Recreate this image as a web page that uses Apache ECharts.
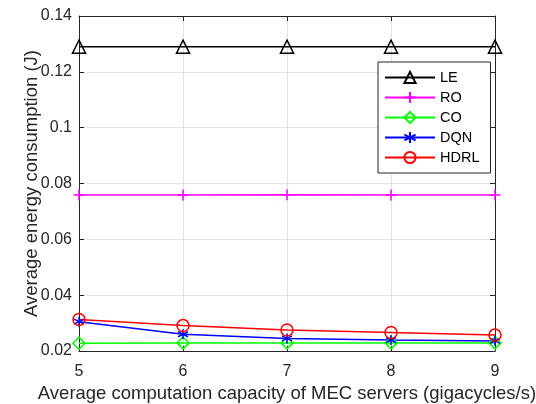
<!DOCTYPE html>
<html>
<head>
<meta charset="utf-8">
<script src="https://cdn.jsdelivr.net/npm/echarts@6/dist/echarts.min.js"></script>
<style>
  html, body { margin: 0; padding: 0; background: #fff; }
  #chart { width: 536px; height: 404px; }
</style>
</head>
<body>
<div id="chart"></div>
<script>
// x values: average computation capacity (gigacycles/s)
var capacity = [5, 6, 7, 8, 9];
var seriesNames = ['LE', 'RO', 'CO', 'DQN', 'HDRL'];
var leData = [0.129, 0.129, 0.129, 0.129, 0.129];
var roData = [0.0759, 0.0759, 0.0760, 0.0759, 0.0759];
var coData = [0.0228, 0.0229, 0.0229, 0.0229, 0.0229];
var dqnData = [0.0305, 0.0260, 0.0245, 0.0239, 0.0236];
var hdrlData = [0.0313, 0.0291, 0.0275, 0.0266, 0.0257];

var FONT = 'Liberation Sans, Arial, Helvetica, sans-serif';

function pairs(vals) {
  return vals.map(function (v, i) { return [capacity[i], v]; });
}

function mkSeries(name, data, color, symbol, size) {
  return {
    name: name,
    type: 'line',
    data: pairs(data),
    symbol: symbol,
    symbolSize: size,
    lineStyle: { color: color, width: 1.5 },
    itemStyle: { color: 'rgba(255,255,255,0)', borderColor: color, borderWidth: 1.5 },
    emphasis: { disabled: true },
    z: 3
  };
}

var plusPath = 'path://M5,0 L5,10 M0,5 L10,5';
var starPath = 'path://M5,0 L5,10 M0.7,2.5 L9.3,7.5 M0.7,7.5 L9.3,2.5';

var chart = echarts.init(document.getElementById('chart'));
var option = {
  animation: false,
  backgroundColor: '#fff',
  grid: { left: 79, right: 41, top: 16, bottom: 53, containLabel: false, outerBoundsMode: 'none' },
  legend: {
    data: seriesNames,
    orient: 'vertical',
    left: 378,
    top: 62,
    padding: [8, 11, 8, 6],
    itemWidth: 50,
    itemHeight: 14,
    itemGap: 5,
    backgroundColor: '#fff',
    borderColor: '#262626',
    borderWidth: 1,
    borderRadius: 0,
    textStyle: { fontFamily: FONT, fontSize: 14.5, color: '#000' }
  },
  xAxis: [{
    type: 'value',
    min: 5, max: 9, interval: 1,
    name: 'Average computation capacity of MEC servers (gigacycles/s)',
    nameLocation: 'middle',
    nameGap: 33,
    nameMoveOverlap: false,
    nameTextStyle: { fontFamily: FONT, fontSize: 18.5, color: '#262626' },
    axisLine: { lineStyle: { color: '#262626', width: 1 } },
    axisTick: { inside: true, length: 5, lineStyle: { color: '#262626' } },
    axisLabel: { fontFamily: FONT, fontSize: 16, color: '#262626', margin: 13 },
    splitLine: { show: true, lineStyle: { color: '#e3e3e3', width: 1 } }
  }, {
    type: 'value',
    position: 'top',
    min: 5, max: 9, interval: 1,
    axisLine: { lineStyle: { color: '#262626', width: 1 } },
    axisTick: { inside: true, length: 5, lineStyle: { color: '#262626' } },
    axisLabel: { show: false },
    splitLine: { show: false }
  }],
  yAxis: [{
    type: 'value',
    min: 0.02, max: 0.14, interval: 0.02,
    name: 'Average energy consumption (J)',
    nameLocation: 'middle',
    nameGap: 38,
    nameMoveOverlap: false,
    nameTextStyle: { fontFamily: FONT, fontSize: 18.5, color: '#262626' },
    axisLine: { show: true, lineStyle: { color: '#262626', width: 1 } },
    axisTick: { show: true, inside: true, length: 5, lineStyle: { color: '#262626' } },
    axisLabel: {
      fontFamily: FONT, fontSize: 16, color: '#262626', margin: 7,
      formatter: function (v) { return String(parseFloat(v.toFixed(2))); }
    },
    splitLine: { show: true, lineStyle: { color: '#e3e3e3', width: 1 } }
  }, {
    type: 'value',
    position: 'right',
    min: 0.02, max: 0.14, interval: 0.02,
    axisLine: { show: true, lineStyle: { color: '#262626', width: 1 } },
    axisTick: { show: true, inside: true, length: 5, lineStyle: { color: '#262626' } },
    axisLabel: { show: false },
    splitLine: { show: false }
  }],
  series: [
    mkSeries('LE', leData, '#000000', 'triangle', 13),
    mkSeries('RO', roData, '#ff00ff', plusPath, 11),
    mkSeries('CO', coData, '#00ff00', 'diamond', 12),
    mkSeries('DQN', dqnData, '#0000ff', starPath, 10),
    mkSeries('HDRL', hdrlData, '#ff0000', 'circle', 12)
  ]
};
chart.setOption(option);
</script>
</body>
</html>
